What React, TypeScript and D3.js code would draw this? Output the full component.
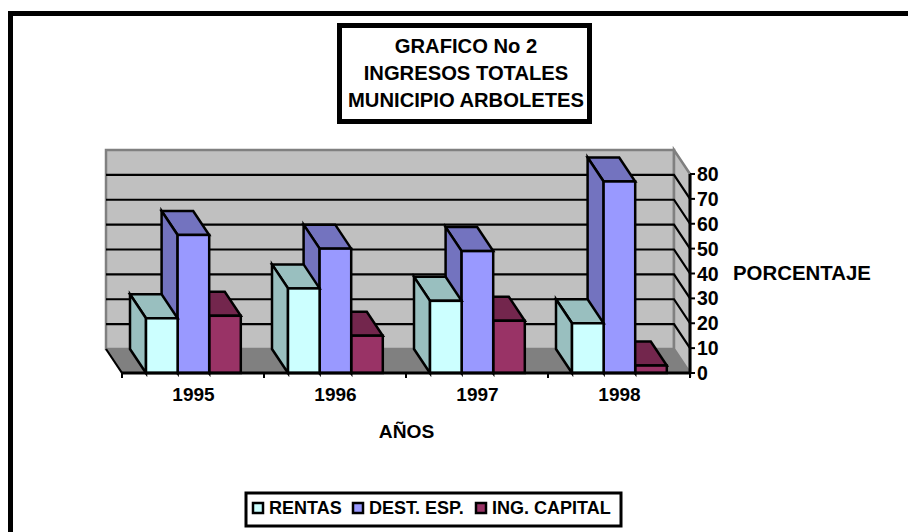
import React from "react";
import * as d3 from "d3";

const categories = ["1995", "1996", "1997", "1998"];
const seriesNames = ["RENTAS", "DEST. ESP.", "ING. CAPITAL"];
const rentas = [22, 34, 29, 20];
const destEsp = [55.5, 50, 49, 77];
const ingCapital = [23, 15, 21, 3];
const yTicks = [0, 10, 20, 30, 40, 50, 60, 70, 80];
const titleLines = ["GRAFICO No 2", "INGRESOS TOTALES", "MUNICIPIO ARBOLETES"];
const faceColors = ["#CCFFFF", "#9999FF", "#993366"];
const sideColors = ["#99BFBF", "#7373BF", "#73264D"];
const topColors = ["#99BFBF", "#7373BF", "#73264D"];

const W = 908;
const H = 532;
const FONT = "'Liberation Sans', Arial, sans-serif";
const DX = 16;
const DY = 24;
const x0 = 122;
const x1 = 690;
const y0 = 373;
const y80 = 174;
const barW = 31.6;

export default function App() {
  const y = d3.scaleLinear().domain([0, 80]).range([y0, y80]);
  const xBand = d3.scaleBand<string>().domain(categories).range([x0, x1]).paddingInner(0).paddingOuter(0);
  const xSeries = d3.scaleBand<number>().domain([0, 1, 2]).range([24, 24 + 3 * barW]);
  const series = [rentas, destEsp, ingCapital];
  const line = d3.line<[number, number]>();
  const poly = (pts: [number, number][]) => line(pts) + "Z";

  const stroke = { stroke: "#000", strokeWidth: 2.5, strokeLinejoin: "miter" as const };

  return (
    <svg width={W} height={H} style={{ position: "absolute", left: 0, top: 0 }} fontFamily={FONT} fontWeight="bold">
      <rect width={W} height={H} fill="#fff" />
      {/* outer frame */}
      <line x1={8} x2={W} y1={13.5} y2={13.5} stroke="#000" strokeWidth={5} />
      <line x1={10.5} x2={10.5} y1={11} y2={H} stroke="#000" strokeWidth={5} />

      {/* walls */}
      <rect x={x0 - DX} y={y(80) - DY} width={x1 - x0} height={y(0) - y(80)} fill="#C0C0C0" stroke="#808080" strokeWidth={2.5} />
      <path d={poly([[x1 - DX, y(80) - DY], [x1, y(80)], [x1, y0], [x1 - DX, y0 - DY]])} fill="#C0C0C0" stroke="#808080" strokeWidth={2.5} />
      <path d={poly([[x0 - DX, y0 - DY], [x0, y0], [x1, y0], [x1 - DX, y0 - DY]])} fill="#808080" stroke="#808080" strokeWidth={1} />
      {yTicks.slice(1, -1).map((t) => (
        <path key={t} d={line([[x0 - DX, y(t) - DY], [x1 - DX, y(t) - DY], [x1, y(t)]]) ?? ""} fill="none" stroke="#000" strokeWidth={2.2} />
      ))}
      <path d={line([[x0, y0], [x0 - DX, y0 - DY]]) ?? ""} stroke="#000" strokeWidth={2.2} fill="none" />

      {/* bars: right to left, so the nearer left bar's top sits over its neighbour */}
      {categories.map((c, ci) =>
        [2, 1, 0].map((si) => {
          const vals = series[si];
          const l = (xBand(c) ?? 0) + (xSeries(si) ?? 0);
          const r = l + barW;
          const t = y(vals[ci]);
          return (
            <g key={c + si}>
              <path d={poly([[l - DX, t - DY], [r - DX, t - DY], [r, t], [l, t]])} fill={topColors[si]} {...stroke} />
              <path d={poly([[l - DX, t - DY], [l, t], [l, y0], [l - DX, y0 - DY]])} fill={sideColors[si]} {...stroke} />
              <rect x={l} y={t} width={barW} height={y0 - t} fill={faceColors[si]} {...stroke} />
            </g>
          );
        })
      )}

      {/* axes */}
      <line x1={x0} x2={x1} y1={y0} y2={y0} stroke="#000" strokeWidth={3} />
      {[...categories.map((c) => xBand(c) ?? 0), x1].map((v, i) => (
        <line key={i} x1={v} x2={v} y1={y0} y2={y0 + 5} stroke="#000" strokeWidth={2} />
      ))}
      <line x1={x1} x2={x1} y1={y(80)} y2={y0} stroke="#000" strokeWidth={3} />
      {yTicks.map((t) => (
        <g key={t}>
          <line x1={x1} x2={x1 + 5} y1={y(t)} y2={y(t)} stroke="#000" strokeWidth={2} />
          <text x={x1 + 7} y={y(t) + 7} fontSize={19.5} fill="#000">{t}</text>
        </g>
      ))}
      {categories.map((c) => (
        <text key={c} x={(xBand(c) ?? 0) + xBand.bandwidth() / 2 + 0.5} y={401} fontSize={19} textAnchor="middle" fill="#000">{c}</text>
      ))}
      <text x={406.5} y={438} fontSize={19.2} textAnchor="middle" fill="#000">AÑOS</text>
      <text x={733} y={280} fontSize={20.4} fill="#000">PORCENTAJE</text>

      {/* title */}
      <rect x={339.5} y={25.5} width={250} height={96} fill="#fff" stroke="#000" strokeWidth={5} />
      {titleLines.map((s, i) => (
        <text key={s} x={466} y={53 + i * 27} fontSize={20.2} textAnchor="middle" fill="#000">{s}</text>
      ))}

      {/* legend */}
      <rect x={246} y={493} width={375} height={33} fill="#fff" stroke="#000" strokeWidth={3} />
      {seriesNames.map((s, i) => {
        const sx = [253, 353, 476][i];
        return (
          <g key={s}>
            <rect x={sx} y={503} width={10} height={10} fill={faceColors[i]} stroke="#000" strokeWidth={2.5} />
            <text x={sx + 16} y={513.5} fontSize={18} fill="#000">{s}</text>
          </g>
        );
      })}
    </svg>
  );
}
